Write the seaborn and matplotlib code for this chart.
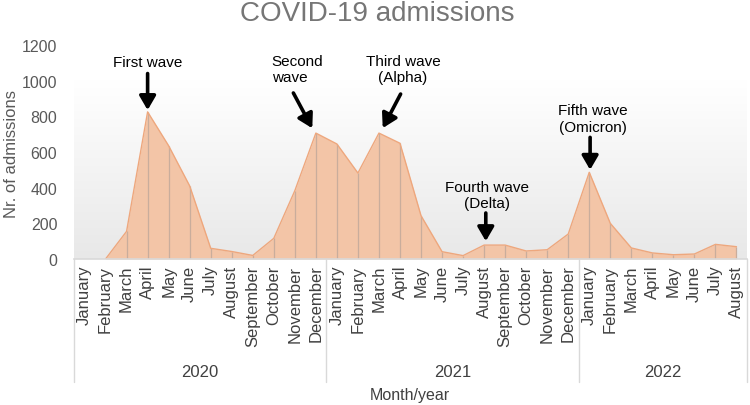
import numpy as np
import pandas as pd
import matplotlib
matplotlib.use("Agg")
import matplotlib.pyplot as plt
import matplotlib.transforms as mtransforms
import seaborn as sns

months = ["January", "February", "March", "April", "May", "June", "July",
          "August", "September", "October", "November", "December"]
years = ["2020", "2021", "2022"]
month_labels = months + months + months[:8]
year_of_point = ["2020"] * 12 + ["2021"] * 12 + ["2022"] * 8
admissions = [np.nan, 0, 155, 825, 635, 410, 60, 42, 20, 116, 383, 706,
              645, 482, 706, 649, 243, 41, 19, 78, 78, 45, 52, 140,
              486, 200, 62, 34, 24, 28, 82, 69]

wave_texts = ["First wave", "Second\nwave", "Third wave\n(Alpha)",
              "Fourth wave\n(Delta)", "Fifth wave\n(Omicron)"]
wave_months = [3, 11, 14, 19, 24]

df = pd.DataFrame({"idx": np.arange(len(admissions)),
                   "month": month_labels, "year": year_of_point,
                   "admissions": admissions})

sns.set_theme(style="white")
plt.rcParams['font.family'] = ['Liberation Sans', 'DejaVu Sans']

fig = plt.figure(figsize=(7.5, 4.06), dpi=100)
ax = fig.add_axes([74 / 750, 146 / 406, 673 / 750, 214 / 406])

n = len(admissions)
ax.set_xlim(-0.5, n - 0.5)
ax.set_ylim(0, 1200)

# gradient background
grad = np.linspace(0, 1, 256).reshape(-1, 1)
cmap = matplotlib.colors.LinearSegmentedColormap.from_list("g", ["#e8e8e8", "#ffffff"])
ax.imshow(grad, extent=(-0.5, n - 0.5, 0, 1000), origin="lower", aspect="auto",
          cmap=cmap, zorder=0)

valid = df.dropna()
ax.fill_between(valid["idx"], 0, valid["admissions"], color="#f3c5a7", zorder=1, lw=0)
sns.lineplot(data=valid, x="idx", y="admissions", ax=ax, color="#eea77d", lw=1.0,
             zorder=3)
ax.vlines(valid["idx"], 0, valid["admissions"], color="#c9ad9c", lw=0.9, zorder=2)

ax.set_xticks(df["idx"])
ax.set_xticklabels(month_labels, rotation=90, fontsize=12, color="#404040")
ax.tick_params(axis="x", length=0, pad=4)
ax.set_yticks(np.arange(0, 1201, 200))
ax.set_yticklabels([str(v) for v in range(0, 1201, 200)], fontsize=11.5, color="#595959")
ax.tick_params(axis="y", length=0, pad=12)
ax.set_xlabel("")
ax.set_ylabel("")

for s in ["top", "right", "left"]:
    ax.spines[s].set_visible(False)
ax.spines["bottom"].set_color("#d9d9d9")
ax.spines["bottom"].set_linewidth(1.2)
ax.spines["bottom"].set_zorder(4)

# year group separators
trans = mtransforms.blended_transform_factory(ax.transData, fig.transFigure)
y_bot = (406 - 383) / 406
y_top = (406 - 260) / 406
bounds = [-0.5, 11.5, 23.5, n - 0.5]
for b in bounds:
    ax.plot([b, b], [y_bot, y_top], transform=trans, color="#d9d9d9", lw=1,
            clip_on=False)
for i, yr in enumerate(years):
    ax.text((bounds[i] + bounds[i + 1]) / 2, (406 - 373) / 406, yr,
            transform=trans, ha="center", va="center", fontsize=12, color="#404040")

fig.text(410 / 750, (406 - 396) / 406, "Month/year", ha="center", va="center",
         fontsize=11.5, color="#404040")
fig.text(12 / 750, (406 - 154) / 406, "Nr. of admissions", rotation=90,
         ha="center", va="center", fontsize=12, color="#595959")
fig.text(377 / 750, (406 - 14) / 406, "COVID-19 admissions", ha="center",
         va="center", fontsize=20, color="#767676")

# annotations
text_pos = [(3.0, 1105, "center"), (8.9, 1065, "left"), (15.14, 1065, "center"),
            (19.12, 359, "center"), (24.19, 787, "center")]
arrow_from = [(3.0, 1040), (9.93, 931), (15.03, 925), (19.08, 258), (24.04, 682)]
arrow_to = [(3.0, 835), (10.83, 733), (14.18, 734), (19.08, 100), (24.04, 500)]
for t, (tx, ty, ha), af, at in zip(wave_texts, text_pos, arrow_from, arrow_to):
    ax.text(tx, ty, t, ha=ha, va="center", fontsize=11, color="black",
            linespacing=1.25, zorder=5)
    ax.annotate("", xy=at, xytext=af,
                arrowprops=dict(arrowstyle="-|>,head_length=0.6,head_width=0.35",
                                color="black", lw=2.6, shrinkA=0, shrinkB=0,
                                mutation_scale=14),
                zorder=5)

fig.savefig("out.png", dpi=100)
